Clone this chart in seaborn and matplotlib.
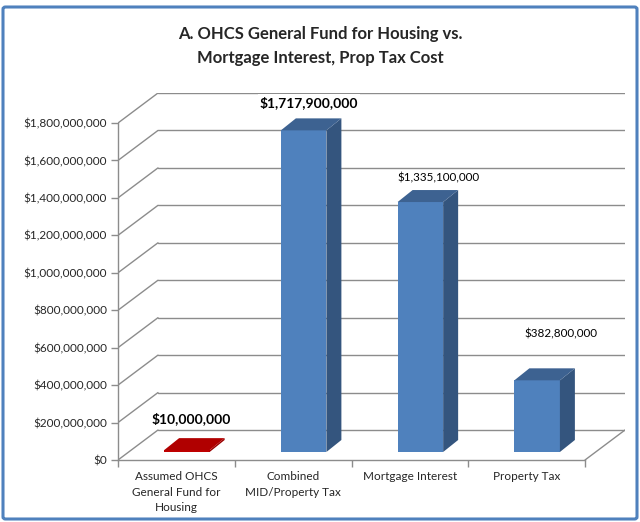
import numpy as np
import pandas as pd
import seaborn as sns
import matplotlib.pyplot as plt
from matplotlib.patches import Polygon, FancyBboxPatch

categories = ["Assumed OHCS\nGeneral Fund for\nHousing",
              "Combined\nMID/Property Tax",
              "Mortgage Interest",
              "Property Tax"]
values = [10000000, 1717900000, 1335100000, 382800000]
value_labels = ["$10,000,000", "$1,717,900,000", "$1,335,100,000", "$382,800,000"]
label_bold = [True, True, False, False]
y_ticks = [0, 200000000, 400000000, 600000000, 800000000, 1000000000,
           1200000000, 1400000000, 1600000000, 1800000000]

# label placement relative to the bar top (pixels), as Excel put them
label_dx = [-3, -2, 11, 16]
label_gap = [20, 16, 12, 34]

front_colors = ["#C00000", "#4F81BD", "#4F81BD", "#4F81BD"]
side_colors = ["#9A0000", "#34557E", "#34557E", "#34557E"]
top_colors = ["#B00000", "#3D6291", "#3D6291", "#3D6291"]
grid_color = "#8C8C8C"

sns.set_theme(style="white")
plt.rcParams['font.family'] = ['Lato', 'DejaVu Sans']

W, H = 640, 522
fig = plt.figure(figsize=(W / 100, H / 100), dpi=100)

# pixel geometry of the front plane
px_left, px_right0 = 118, 585          # front x axis ends
px_zero, px_top = 460, 123             # $0 and $1.8B on front axis
slot = (px_right0 - px_left) / 4
ppv = (px_zero - px_top) / 1.8e9       # pixels per dollar
depth_px = (40, 30)                    # wall offset (right, up)
px_right = px_right0 + depth_px[0]
px_ytop = px_top - depth_px[1]

ax = fig.add_axes([px_left / W, 1 - px_zero / H,
                   (px_right - px_left) / W, (px_zero - px_ytop) / H])
xmax = -0.5 + (px_right - px_left) / slot
ymax = (px_zero - px_ytop) / ppv

wdx = depth_px[0] / slot
wdy = depth_px[1] / ppv

# back wall gridlines and the diagonals joining them to the front axis
for v in y_ticks:
    ax.plot([-0.5 + wdx, xmax], [v + wdy, v + wdy], color=grid_color, lw=1.0, zorder=1)
    ax.plot([-0.5, -0.5 + wdx], [v, v + wdy], color=grid_color, lw=1.0, zorder=1)
# floor right edge
ax.plot([3.5, 3.5 + wdx], [0, wdy], color=grid_color, lw=1.0, zorder=1)

df = pd.DataFrame({"cat": categories, "val": values})
sns.barplot(data=df, x="cat", y="val", hue="cat", palette=front_colors,
            width=0.39, legend=False, saturation=1, ax=ax, zorder=3)
ax.set_xlim(-0.5, xmax)
ax.set_ylim(0, ymax)

# bar sits partway into the depth
off_x, off_y = 10.5 / slot, 8 / ppv
bdx, bdy = 15 / slot, 12 / ppv
for i, p in enumerate(ax.patches):
    p.set_x(p.get_x() + off_x)
    p.set_y(p.get_y() + off_y)
    p.set_edgecolor("none")
    x0, y0 = p.get_x(), p.get_y()
    x1, y1 = x0 + p.get_width(), y0 + p.get_height()
    side = Polygon([(x1, y0), (x1 + bdx, y0 + bdy), (x1 + bdx, y1 + bdy), (x1, y1)],
                   closed=True, facecolor=side_colors[i], edgecolor="none", zorder=3)
    top = Polygon([(x0, y1), (x1, y1), (x1 + bdx, y1 + bdy), (x0 + bdx, y1 + bdy)],
                  closed=True, facecolor=top_colors[i], edgecolor="none", zorder=3)
    ax.add_patch(side)
    ax.add_patch(top)
    cx = (x0 + x1 + bdx) / 2 + label_dx[i] / slot
    cy = y1 + bdy + label_gap[i] / ppv
    ax.text(cx, cy, value_labels[i],
            ha="center", va="center", fontsize=10 if label_bold[i] else 8.4,
            fontweight="bold" if label_bold[i] else "normal",
            color="black", zorder=5,
            bbox=dict(facecolor="white", edgecolor="none", pad=1.5))

# axes lines and ticks
sns.despine(ax=ax, top=True, right=True)
for s in ["left", "bottom"]:
    ax.spines[s].set_color(grid_color)
    ax.spines[s].set_linewidth(1.0)
ax.spines["left"].set_bounds(0, y_ticks[-1])
ax.spines["bottom"].set_bounds(-0.5, 3.5)
ax.set_yticks(y_ticks)
ax.set_yticklabels(["${:,.0f}".format(v) for v in y_ticks])
ax.set_xticks([-0.5, 0.5, 1.5, 2.5, 3.5])
ax.set_xticklabels([])
ax.set_xticks(range(len(categories)), labels=categories, minor=True)
ax.tick_params(axis="y", which="major", direction="out", length=5, width=1,
               color=grid_color, labelsize=8.5, pad=3, left=True)
ax.tick_params(axis="x", which="major", direction="out", length=5, width=1,
               color=grid_color, bottom=True)
ax.tick_params(axis="x", which="minor", length=0, labelsize=8.5, pad=8)
for t in ax.get_xticklabels(minor=True):
    t.set_horizontalalignment("center")
    t.set_multialignment("center")
    t.set_linespacing(1.5)
ax.set_xlabel("")
ax.set_ylabel("")
ax.set_facecolor("none")

fig.text(0.5, 1 - 46 / H, "A. OHCS General Fund for Housing vs.\nMortgage Interest, Prop Tax Cost",
         ha="center", va="center", fontsize=12, fontweight="bold", linespacing=1.6)

# chart border
border = FancyBboxPatch((3 / W, 3 / H), (W - 6) / W, (H - 10) / H,
                        boxstyle="round,pad=0,rounding_size=0.004",
                        transform=fig.transFigure, facecolor="none",
                        edgecolor="#4F81BD", lw=2.2)
fig.patches.append(border)

fig.savefig("out.png", dpi=100)
